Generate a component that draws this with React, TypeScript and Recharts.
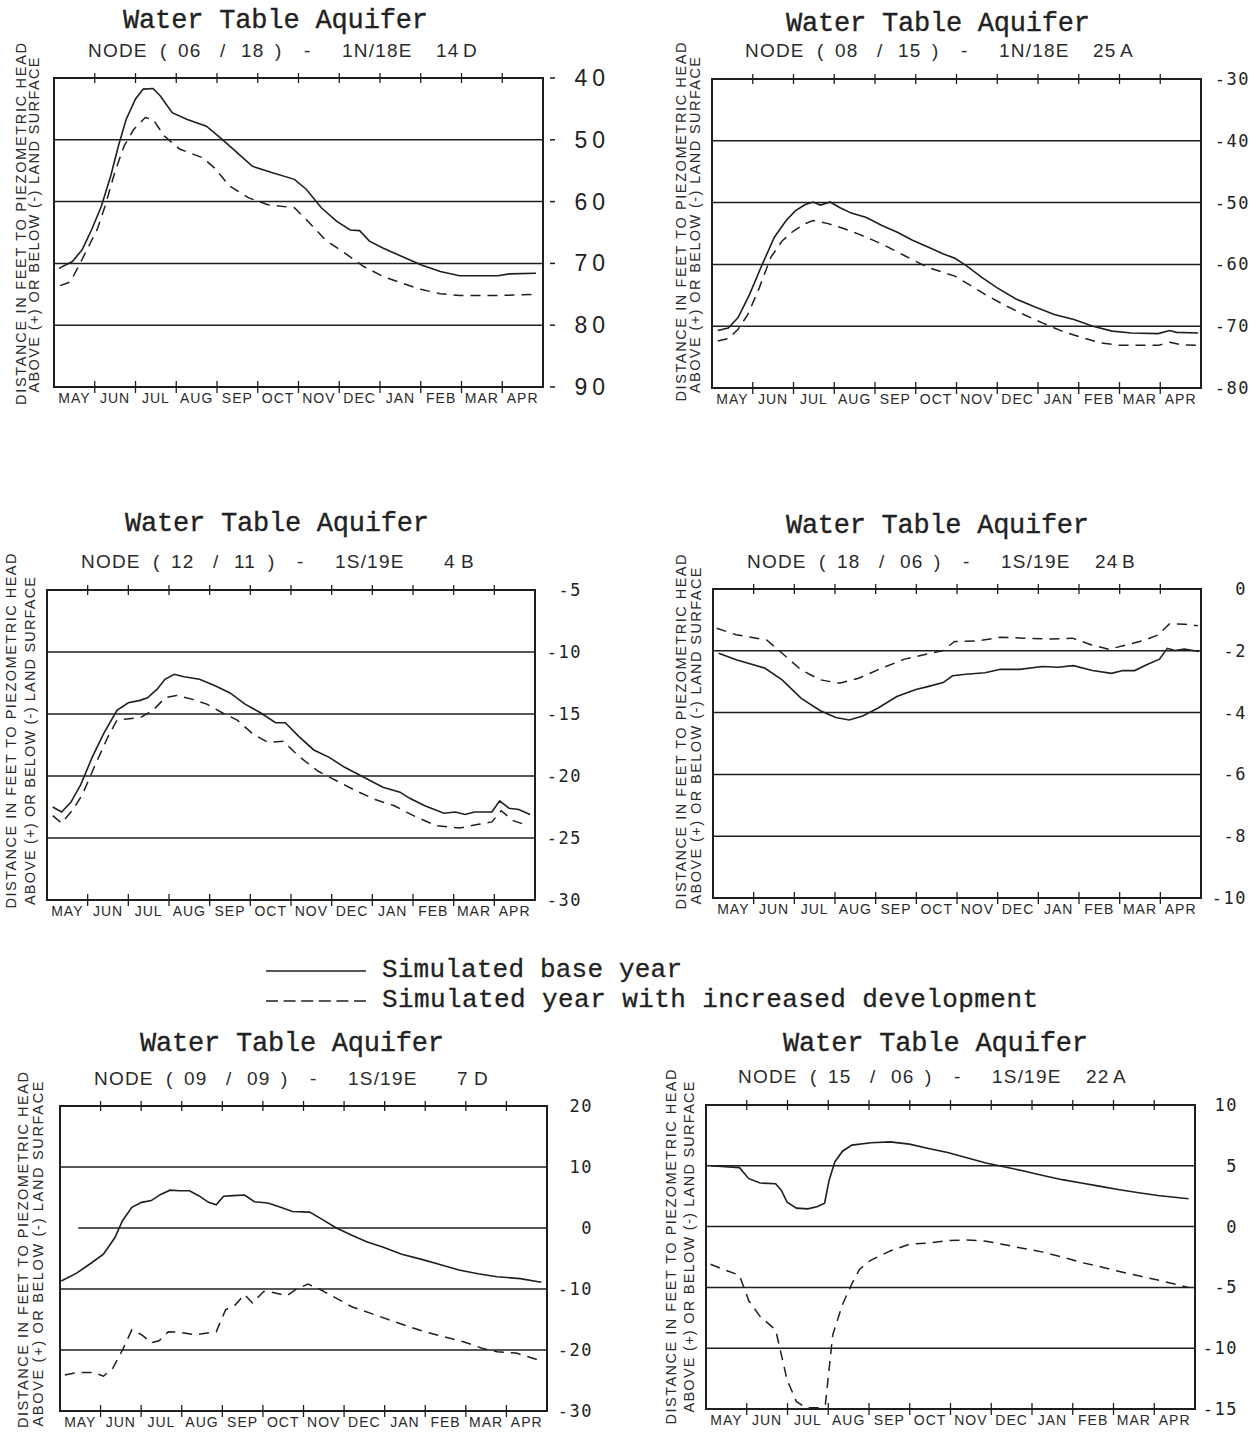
import React from 'react';
import { LineChart, Line, XAxis, YAxis, ReferenceLine, ReferenceArea } from 'recharts';

type Pt = [number, number];

const MONTHS = ['MAY', 'JUN', 'JUL', 'AUG', 'SEP', 'OCT', 'NOV', 'DEC', 'JAN', 'FEB', 'MAR', 'APR'];
const MONTH_MIDS = [0.5, 1.5, 2.5, 3.5, 4.5, 5.5, 6.5, 7.5, 8.5, 9.5, 10.5, 11.5];

// node 06/18 - 1N/18E 14D (feet below land surface)
const n0618Base: Pt[] = [
  [0.12, 70.8], [0.45, 69.7], [0.69, 67.8], [0.92, 64.6], [1.16, 60.8], [1.39, 55.9], [1.58, 51.0],
  [1.77, 46.7], [2.0, 43.4], [2.19, 41.8], [2.43, 41.7], [2.61, 42.9], [2.9, 45.6], [3.27, 46.7],
  [3.74, 47.8], [4.12, 49.9], [4.5, 52.1], [4.87, 54.3], [5.34, 55.3], [5.9, 56.4], [6.19, 58.0],
  [6.56, 61.0], [6.94, 63.2], [7.27, 64.6], [7.5, 64.7], [7.74, 66.4], [8.07, 67.5], [8.54, 68.9],
  [9.0, 70.2], [9.48, 71.3], [9.95, 72.0], [10.42, 72.0], [10.9, 72.0], [11.17, 71.7], [11.83, 71.6],
];
const n0618Dev: Pt[] = [
  [0.15, 73.6], [0.4, 73.0], [0.64, 70.0], [1.06, 64.5], [1.25, 60.8], [1.49, 55.3], [1.72, 51.0],
  [1.96, 48.3], [2.24, 46.4], [2.43, 46.7], [2.71, 49.4], [3.08, 51.5], [3.65, 52.9], [3.93, 54.5],
  [4.31, 57.5], [4.78, 59.4], [5.25, 60.5], [5.9, 61.0], [6.19, 62.9], [6.66, 66.2], [7.13, 68.3],
  [7.6, 70.5], [8.07, 72.1], [8.54, 73.2], [9.0, 74.2], [9.48, 74.9], [9.95, 75.2], [10.9, 75.2],
  [11.83, 75.0],
];

// node 08/15 - 1N/18E 25A
const n0815Base: Pt[] = [
  [0.14, -70.7], [0.4, -70.3], [0.64, -68.6], [0.92, -64.9], [1.2, -60.5], [1.53, -55.6], [1.82, -52.9],
  [2.05, -51.3], [2.29, -50.3], [2.48, -49.9], [2.66, -50.4], [2.9, -49.9], [3.13, -50.8], [3.42, -51.7],
  [3.79, -52.4], [4.17, -53.7], [4.55, -54.8], [4.92, -56.1], [5.3, -57.2], [5.68, -58.3], [5.96, -59.0],
  [6.24, -60.2], [6.62, -62.1], [7.0, -63.8], [7.46, -65.6], [7.93, -66.9], [8.4, -68.1], [8.88, -68.9],
  [9.35, -70.0], [9.82, -70.8], [10.29, -71.1], [10.95, -71.2], [11.23, -70.7], [11.4, -71.0], [11.93, -71.1],
];
const n0815Dev: Pt[] = [
  [0.14, -72.4], [0.4, -72.0], [0.64, -70.5], [0.88, -68.1], [1.16, -63.8], [1.44, -58.9], [1.72, -56.2],
  [2.0, -54.6], [2.29, -53.4], [2.48, -52.9], [2.85, -53.4], [3.23, -54.2], [3.6, -55.1], [4.17, -56.7],
  [4.73, -58.6], [5.3, -60.5], [5.96, -61.9], [6.24, -63.0], [6.71, -64.9], [7.18, -66.6], [7.65, -68.1],
  [8.12, -69.5], [8.59, -70.8], [9.06, -71.8], [9.53, -72.7], [10.0, -73.1], [10.95, -73.1], [11.23, -72.6],
  [11.5, -73.0], [11.93, -73.1],
];

// node 12/11 - 1S/19E 4B
const n1211Base: Pt[] = [
  [0.14, -22.5], [0.36, -22.9], [0.59, -22.1], [0.83, -20.7], [1.11, -18.5], [1.39, -16.6], [1.72, -14.7],
  [2.0, -14.1], [2.29, -13.9], [2.47, -13.7], [2.71, -13.0], [2.9, -12.2], [3.13, -11.8], [3.37, -12.0],
  [3.75, -12.2], [4.12, -12.7], [4.5, -13.3], [4.87, -14.2], [5.25, -14.9], [5.62, -15.7], [5.86, -15.7],
  [6.19, -16.8], [6.56, -17.9], [6.94, -18.5], [7.32, -19.3], [7.79, -20.1], [8.26, -20.9], [8.68, -21.3],
  [8.92, -21.8], [9.29, -22.4], [9.76, -23.0], [10.04, -22.9], [10.28, -23.1], [10.51, -22.9], [10.94, -22.9],
  [11.13, -22.0], [11.36, -22.6], [11.6, -22.7], [11.88, -23.1],
];
const n1211Dev: Pt[] = [
  [0.14, -23.2], [0.36, -23.8], [0.64, -22.7], [0.87, -21.5], [1.16, -19.3], [1.49, -16.9], [1.72, -15.5],
  [1.96, -15.4], [2.29, -15.3], [2.61, -14.7], [2.9, -13.7], [3.18, -13.5], [3.56, -13.8], [3.93, -14.2],
  [4.31, -14.9], [4.68, -15.5], [5.06, -16.6], [5.44, -17.3], [5.81, -17.2], [6.19, -18.4], [6.66, -19.6],
  [7.13, -20.4], [7.6, -21.2], [8.07, -21.9], [8.54, -22.4], [9.01, -23.2], [9.57, -24.0], [10.14, -24.2],
  [10.61, -23.9], [10.94, -23.7], [11.17, -22.8], [11.46, -23.6], [11.83, -24.0],
];

// node 18/06 - 1S/19E 24B
const n1806Base: Pt[] = [
  [0.14, -2.08], [0.57, -2.29], [1.27, -2.56], [1.7, -2.94], [2.17, -3.54], [2.64, -3.94], [3.02, -4.16],
  [3.35, -4.24], [3.68, -4.11], [4.05, -3.86], [4.52, -3.48], [4.99, -3.25], [5.28, -3.16], [5.66, -3.03],
  [5.89, -2.81], [6.22, -2.76], [6.69, -2.71], [7.07, -2.6], [7.54, -2.6], [8.1, -2.51], [8.48, -2.53],
  [8.86, -2.48], [9.33, -2.64], [9.8, -2.73], [10.08, -2.64], [10.37, -2.64], [10.65, -2.46], [10.98, -2.27],
  [11.17, -1.92], [11.36, -1.99], [11.59, -1.94], [11.95, -2.02],
];
const n1806Dev: Pt[] = [
  [0.09, -1.27], [0.57, -1.48], [1.32, -1.65], [1.7, -2.08], [2.17, -2.62], [2.64, -2.94], [3.11, -3.05],
  [3.58, -2.89], [4.15, -2.56], [4.71, -2.27], [5.28, -2.1], [5.66, -1.99], [5.94, -1.7], [6.5, -1.68],
  [7.07, -1.56], [7.63, -1.59], [8.29, -1.62], [8.84, -1.59], [9.31, -1.81], [9.74, -1.95], [10.16, -1.81],
  [10.63, -1.65], [10.96, -1.48], [11.22, -1.13], [11.59, -1.14], [11.92, -1.19],
];

// node 09/09 - 1S/19E 7D
const n0909Base: Pt[] = [
  [0.03, -8.7], [0.41, -7.4], [0.78, -5.7], [1.07, -4.3], [1.35, -1.6], [1.54, 1.2], [1.77, 3.4],
  [2.01, 4.2], [2.25, 4.5], [2.48, 5.5], [2.71, 6.2], [2.95, 6.1], [3.19, 6.1], [3.42, 5.3], [3.66, 4.2],
  [3.85, 3.8], [4.03, 5.2], [4.27, 5.3], [4.55, 5.4], [4.79, 4.3], [5.12, 4.1], [5.4, 3.5], [5.73, 2.7],
  [6.15, 2.6], [6.44, 1.5], [6.81, 0.0], [7.19, -1.2], [7.57, -2.3], [7.95, -3.1], [8.42, -4.3],
  [8.89, -5.1], [9.36, -6.0], [9.83, -6.9], [10.3, -7.5], [10.77, -8.0], [11.34, -8.3], [11.86, -8.9],
];
const n0909Dev: Pt[] = [
  [0.12, -24.1], [0.41, -23.7], [0.83, -23.7], [1.07, -24.3], [1.3, -23.0], [1.54, -20.0], [1.77, -16.7],
  [2.01, -17.5], [2.25, -18.8], [2.44, -18.5], [2.67, -17.0], [2.95, -17.1], [3.33, -17.5], [3.85, -17.0],
  [4.08, -13.4], [4.32, -12.6], [4.55, -10.9], [4.74, -12.3], [5.02, -10.4], [5.21, -10.5], [5.59, -11.1],
  [5.83, -10.0], [6.11, -9.2], [6.39, -10.0], [6.72, -11.2], [7.19, -12.9], [7.66, -14.0], [8.13, -15.1],
  [8.61, -16.2], [8.98, -17.0], [9.45, -17.8], [9.92, -18.6], [10.4, -19.7], [10.77, -20.3], [11.24, -20.5],
  [11.86, -21.8],
];

// node 15/06 - 1S/19E 22A
const n1506Base: Pt[] = [
  [0.11, 5.0], [0.82, 4.85], [1.05, 3.94], [1.33, 3.58], [1.71, 3.53], [1.85, 2.98], [1.99, 2.01],
  [2.22, 1.52], [2.5, 1.46], [2.74, 1.65], [2.91, 1.93], [3.02, 3.8], [3.16, 5.32], [3.35, 6.2],
  [3.58, 6.7], [4.05, 6.89], [4.52, 6.97], [4.99, 6.78], [5.46, 6.42], [5.93, 6.09], [6.4, 5.67],
  [6.87, 5.23], [7.34, 4.9], [7.8, 4.57], [8.27, 4.21], [8.74, 3.86], [9.21, 3.58], [9.68, 3.31],
  [10.15, 3.03], [10.62, 2.78], [11.09, 2.56], [11.84, 2.29],
];
const n1506Dev: Pt[] = [
  [0.11, -3.1], [0.49, -3.6], [0.82, -4.0], [1.05, -6.1], [1.33, -7.4], [1.71, -8.5], [1.99, -12.6],
  [2.22, -14.4], [2.45, -14.9], [2.75, -14.9], [2.93, -14.6], [3.11, -8.9], [3.35, -6.4], [3.58, -4.7],
  [3.77, -3.5], [4.05, -2.75], [4.52, -2.0], [4.99, -1.45], [5.46, -1.35], [5.93, -1.15], [6.4, -1.1],
  [6.87, -1.2], [7.34, -1.5], [7.8, -1.8], [8.27, -2.1], [8.74, -2.5], [9.21, -2.95], [9.68, -3.3],
  [10.15, -3.7], [10.62, -4.05], [11.09, -4.4], [11.84, -5.0],
];

const INK = '#1f1f1f';
const SANS = 'Liberation Sans, Arial, sans-serif';
const MONO = 'Liberation Mono, Courier New, monospace';

interface Panel {
  box: { l: number; r: number; t: number; b: number };
  domain: [number, number];
  reversed?: boolean;
  ticks: number[];
  grid: number[];
  zeroFrom?: number;
  base: Pt[];
  dev: Pt[];
  labelDx: number;
  big?: boolean;
  title: { x: number; w: number; y: number };
  node: { a: string; b: string; tr: string; sec: string; letter: string; x: number; y: number };
  ylab: { x1: number; x2: number; c1: number; c2: number; l1: number; l2: number };
}

const panels: Panel[] = [
  {
    box: { l: 54, r: 543, t: 78, b: 387 }, domain: [40, 90], reversed: true,
    ticks: [40, 50, 60, 70, 80, 90], grid: [50, 60, 70, 80], base: n0618Base, dev: n0618Dev, labelDx: 67, big: true,
    title: { x: 123, w: 305, y: 28 },
    node: { a: '06', b: '18', tr: '1N/18E', sec: '14', letter: 'D', x: 88, y: 57 },
    ylab: { x1: 21, x2: 34, c1: 224, c2: 225, l1: 362, l2: 335 },
  },
  {
    box: { l: 712, r: 1201, t: 79, b: 388 }, domain: [-80, -30],
    ticks: [-30, -40, -50, -60, -70, -80], grid: [-40, -50, -60, -70], base: n0815Base, dev: n0815Dev, labelDx: 49,
    title: { x: 786, w: 304, y: 31 },
    node: { a: '08', b: '15', tr: '1N/18E', sec: '25', letter: 'A', x: 745, y: 57 },
    ylab: { x1: 681, x2: 695, c1: 222, c2: 225, l1: 359, l2: 336 },
  },
  {
    box: { l: 47, r: 535, t: 590, b: 900 }, domain: [-30, -5],
    ticks: [-5, -10, -15, -20, -25, -30], grid: [-10, -15, -20, -25], base: n1211Base, dev: n1211Dev, labelDx: 47,
    title: { x: 125, w: 304, y: 531 },
    node: { a: '12', b: '11', tr: '1S/19E', sec: '4', letter: 'B', x: 81, y: 568 },
    ylab: { x1: 11, x2: 30, c1: 731, c2: 741, l1: 355, l2: 328 },
  },
  {
    box: { l: 713, r: 1201, t: 589, b: 898 }, domain: [-10, 0],
    ticks: [0, -2, -4, -6, -8, -10], grid: [-2, -4, -6, -8], base: n1806Base, dev: n1806Dev, labelDx: 46,
    title: { x: 786, w: 303, y: 533 },
    node: { a: '18', b: '06', tr: '1S/19E', sec: '24', letter: 'B', x: 747, y: 568 },
    ylab: { x1: 681, x2: 696, c1: 732, c2: 736, l1: 355, l2: 337 },
  },
  {
    box: { l: 60, r: 547, t: 1106, b: 1411 }, domain: [-30, 20],
    ticks: [20, 10, 0, -10, -20, -30], grid: [10, -10, -20], zeroFrom: 0.45, base: n0909Base, dev: n0909Dev, labelDx: 46,
    title: { x: 140, w: 304, y: 1051 },
    node: { a: '09', b: '09', tr: '1S/19E', sec: '7', letter: 'D', x: 94, y: 1085 },
    ylab: { x1: 23, x2: 38, c1: 1250, c2: 1254, l1: 356, l2: 345 },
  },
  {
    box: { l: 706, r: 1195, t: 1105, b: 1409 }, domain: [-15, 10],
    ticks: [10, 5, 0, -5, -10, -15], grid: [5, 0, -5, -10], base: n1506Base, dev: n1506Dev, labelDx: 43,
    title: { x: 783, w: 305, y: 1051 },
    node: { a: '15', b: '06', tr: '1S/19E', sec: '22', letter: 'A', x: 738, y: 1083 },
    ylab: { x1: 671, x2: 689, c1: 1247, c2: 1247, l1: 355, l2: 331 },
  },
];

const PAD = 12;
const AXW = 80;
const LABH = 28;

// month names centred in each month, with the month-boundary marks crossing the top and bottom frame
const makeMonthTick = (plotW: number, plotH: number) => (p: any) => {
  const i = Math.floor(p.payload.value);
  const ex = p.x - plotW / 24;
  return (
    <g>
      {i > 0 && <line x1={ex} x2={ex} y1={p.y - 6} y2={p.y + 6} stroke={INK} strokeWidth={1.3} />}
      {i > 0 && <line x1={ex} x2={ex} y1={p.y - plotH - 5} y2={p.y - plotH + 5} stroke={INK} strokeWidth={1.3} />}
      <text x={p.x} y={p.y + 16} textAnchor="middle" fontFamily={SANS} fontSize={14} letterSpacing={1} fill="#2a2a2a">
        {MONTHS[i]}
      </text>
    </g>
  );
};

function valueTick(p: any, s: Panel) {
  const v = p.payload.value;
  if (s.big) {
    return (
      <g>
        <line x1={p.x + 7} x2={p.x + 12} y1={p.y} y2={p.y} stroke={INK} strokeWidth={1.5} />
        <text x={p.x + 67} y={p.y} dy={8} textAnchor="end" fontFamily={SANS} fontSize={23} letterSpacing={5} fill="#222">
          {v}
        </text>
      </g>
    );
  }
  return (
    <text x={p.x + s.labelDx} y={p.y} dy={6} textAnchor="end" fontFamily="DejaVu Sans Mono, monospace" fontSize={17} letterSpacing={1.5} fill="#222">
      {v}
    </text>
  );
}

function PanelChart({ s }: { s: Panel }) {
  const plotW = s.box.r - s.box.l;
  const plotH = s.box.b - s.box.t;
  const base = s.base.map(([m, v]) => ({ m, v }));
  const dev = s.dev.map(([m, v]) => ({ m, v }));
  const [lo, hi] = s.domain;
  return (
    <div style={{ position: 'absolute', left: s.box.l - PAD, top: s.box.t - PAD }}>
      <LineChart width={PAD + plotW + AXW} height={PAD + plotH + LABH} margin={{ top: PAD, left: PAD, right: 0, bottom: 0 }}>
        <XAxis xAxisId="m" orientation="bottom" type="number" dataKey="m" domain={[0, 12]} ticks={MONTH_MIDS} interval={0}
          height={LABH} axisLine={false} tickLine={false} tickSize={0} tickMargin={0} tick={makeMonthTick(plotW, plotH)} allowDataOverflow />
        <YAxis yAxisId="v" orientation="right" type="number" domain={s.domain} reversed={s.reversed} ticks={s.ticks} interval={0}
          width={AXW} axisLine={false} tickLine={false} tickSize={0} tickMargin={0} allowDataOverflow
          tick={(p: any) => valueTick(p, s)} />
        <ReferenceArea xAxisId="m" yAxisId="v" x1={0} x2={12} y1={lo} y2={hi} fill="none" fillOpacity={0} stroke={INK} strokeWidth={2} />
        {s.grid.map((g) => (
          <ReferenceLine key={g} xAxisId="m" yAxisId="v" y={g} stroke={INK} strokeWidth={1.5} />
        ))}
        {s.zeroFrom !== undefined && (
          <ReferenceLine xAxisId="m" yAxisId="v" segment={[{ x: s.zeroFrom, y: 0 }, { x: 12, y: 0 }]} stroke={INK} strokeWidth={1.5} />
        )}
        <Line data={base} xAxisId="m" yAxisId="v" dataKey="v" type="linear" stroke={INK} strokeWidth={1.6} dot={false} isAnimationActive={false} />
        <Line data={dev} xAxisId="m" yAxisId="v" dataKey="v" type="linear" stroke={INK} strokeWidth={1.5} strokeDasharray="10 7" dot={false} isAnimationActive={false} />
      </LineChart>
    </div>
  );
}

function NodeLine({ n }: { n: Panel['node'] }) {
  const one = n.sec.length === 1;
  const parts: [string, number][] = [
    ['NODE', 0], ['(', 72], [n.a, 90], ['/', 132], [n.b, 153], [')', 187], ['-', 216], [n.tr, 254],
    [n.sec, one ? 363 : 348], [n.letter, one ? 380 : 375],
  ];
  return (
    <text y={n.y} fontFamily={SANS} fontSize={19} letterSpacing={1.2} fill="#2a2a2a">
      {parts.map(([t, dx], i) => (
        <tspan key={i} x={n.x + dx}>{t}</tspan>
      ))}
    </text>
  );
}

function Texts() {
  return (
    <svg width={1260} height={1432} style={{ position: 'absolute', left: 0, top: 0 }}>
      {panels.map((s, i) => (
        <g key={i}>
          <text x={s.title.x} y={s.title.y} textLength={s.title.w} lengthAdjust="spacing" fontFamily={MONO} fontSize={27}
            fill="#222" stroke="#222" strokeWidth={0.35}>Water Table Aquifer</text>
          <NodeLine n={s.node} />
          <text x={s.ylab.x1} y={s.ylab.c1} transform={`rotate(-90 ${s.ylab.x1} ${s.ylab.c1})`} textAnchor="middle"
            dominantBaseline="central" textLength={s.ylab.l1} lengthAdjust="spacing" fontFamily={SANS} fontSize={14.5} fill="#2a2a2a">
            DISTANCE IN FEET TO PIEZOMETRIC HEAD
          </text>
          <text x={s.ylab.x2} y={s.ylab.c2} transform={`rotate(-90 ${s.ylab.x2} ${s.ylab.c2})`} textAnchor="middle"
            dominantBaseline="central" textLength={s.ylab.l2} lengthAdjust="spacing" fontFamily={SANS} fontSize={14.5} fill="#2a2a2a">
            ABOVE (+) OR BELOW (-) LAND SURFACE
          </text>
        </g>
      ))}
      <line x1={266} x2={366} y1={971} y2={971} stroke={INK} strokeWidth={1.6} />
      <text x={382} y={977} textLength={300} lengthAdjust="spacing" fontFamily={MONO} fontSize={26} fill="#222" stroke="#222" strokeWidth={0.3}>
        Simulated base year
      </text>
      <line x1={266} x2={366} y1={1001} y2={1001} stroke={INK} strokeWidth={1.6} strokeDasharray="12 5.6" />
      <text x={382} y={1007} textLength={656} lengthAdjust="spacing" fontFamily={MONO} fontSize={26} fill="#222" stroke="#222" strokeWidth={0.3}>
        Simulated year with increased development
      </text>
    </svg>
  );
}

export default function App() {
  return (
    <div style={{ position: 'absolute', left: 0, top: 0, width: 1260, height: 1432, background: '#fff' }}>
      <Texts />
      {panels.map((s, i) => (
        <PanelChart key={i} s={s} />
      ))}
    </div>
  );
}
